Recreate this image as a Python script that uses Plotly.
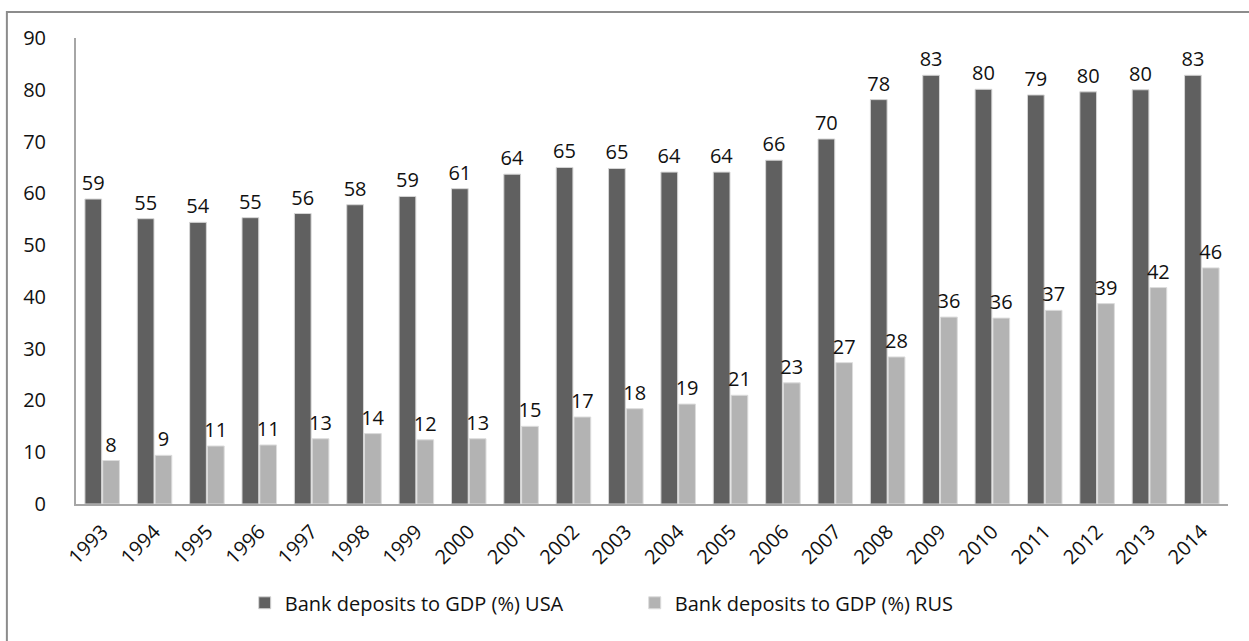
import plotly.graph_objects as go

# Données
years = [str(y) for y in range(1993, 2015)]
usa = [58.9, 55.1, 54.4, 55.3, 56.1, 57.8, 59.4, 60.9, 63.7, 65.0, 64.8, 64.1,
       64.1, 66.4, 70.5, 78.1, 82.8, 80.1, 79.0, 79.6, 80.0, 82.8]
rus = [8.4, 9.4, 11.2, 11.4, 12.6, 13.6, 12.4, 12.6, 15.0, 16.8, 18.4, 19.3,
       21.0, 23.4, 27.3, 28.4, 36.1, 35.9, 37.4, 38.7, 41.8, 45.6]
series_names = ["Bank deposits to GDP (%) USA", "Bank deposits to GDP (%) RUS"]
y_ticks = list(range(0, 100, 10))

font_family = "Open Sans, DejaVu Sans, sans-serif"

fig = go.Figure()

fig.add_trace(go.Bar(
    x=years, y=usa, name=series_names[0],
    marker=dict(color="#606060", line=dict(color="#d6d6d6", width=1)),
    text=[f"{v:.0f}" for v in usa], textposition="outside", constraintext="none",
    textfont=dict(size=20, color="#111111"), cliponaxis=False,
))
fig.add_trace(go.Bar(
    x=years, y=rus, name=series_names[1],
    marker=dict(color="#b3b3b3", line=dict(color="#dcdcdc", width=1)),
    text=[f"{v:.0f}" for v in rus], textposition="outside", constraintext="none",
    textfont=dict(size=20, color="#111111"), cliponaxis=False,
))

# Cadre autour du graphique
fig.add_shape(type="rect", xref="paper", yref="paper",
              x0=-0.06, x1=1.05, y0=-0.32, y1=1.056,
              line=dict(color="#8c8c8c", width=2), layer="below")

fig.update_layout(
    width=1249, height=641,
    margin=dict(l=76, r=21, t=38, b=137),
    paper_bgcolor="white", plot_bgcolor="white",
    font=dict(family=font_family, size=20, color="#111111"),
    barmode="group", bargap=0.32, bargroupgap=0.06,
    showlegend=True,
    legend=dict(orientation="h", x=0.485, xanchor="center", y=-0.212, yanchor="middle",
                font=dict(size=20), entrywidth=345, traceorder="normal"),
    xaxis=dict(showgrid=False, showline=True, linecolor="#a6a6a6", linewidth=2,
               tickangle=-45, ticks="", tickfont=dict(size=20), automargin=False,
               ticklabelstandoff=6),
    yaxis=dict(range=[0, 90], tickvals=y_ticks, showgrid=False, zeroline=False,
               showline=True, linecolor="#a6a6a6", linewidth=2, automargin=False,
               ticks="", ticklabelstandoff=24, tickfont=dict(size=20)),
)

# marge du body à zéro pour que la figure occupe toute la fenêtre
fig.write_html("out.html", config={"displayModeBar": False},
               post_script="document.body.style.margin='0';")
